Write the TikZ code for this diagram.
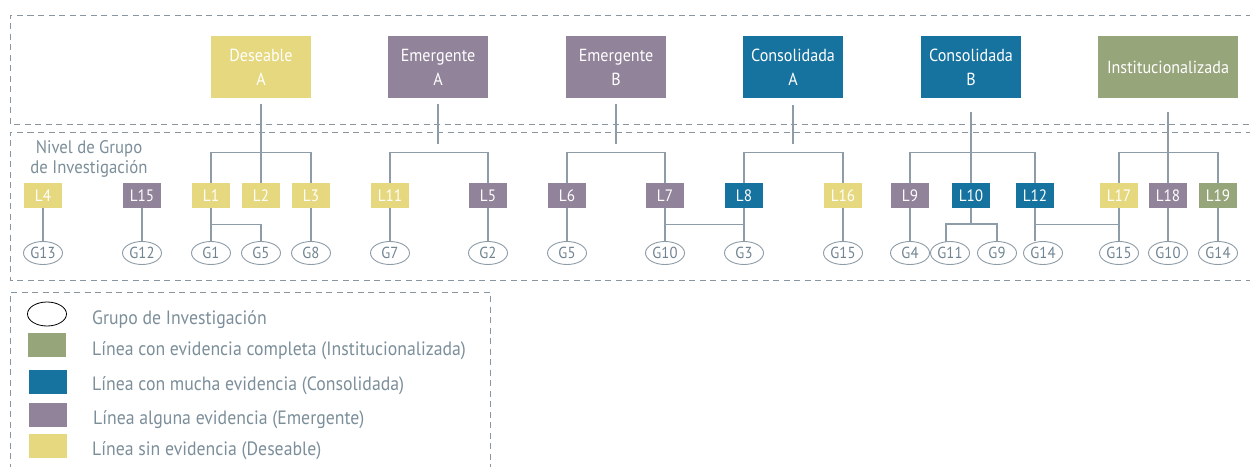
\documentclass[tikz,border=0pt]{standalone}
\usepackage{fontspec}
\setmainfont{PT Sans}[FakeStretch=0.92]
\usetikzlibrary{shapes.geometric}
\definecolor{cyel}{HTML}{E6D87E}
\definecolor{cpur}{HTML}{918399}
\definecolor{cblu}{HTML}{16729E}
\definecolor{cgrn}{HTML}{97A57B}
\definecolor{linec}{HTML}{8D9CA6}
\definecolor{dashc}{HTML}{8896A1}
\definecolor{gtext}{HTML}{6F8391}
\definecolor{ltext}{HTML}{7B8E99}
\tikzset{
  frame/.style={draw=dashc, line width=0.9pt, dash pattern=on 6pt off 4.5pt},
  level/.style={minimum width=100pt, minimum height=62pt, text=white, align=center,
    font=\fontsize{17.5}{24}\selectfont, inner sep=0pt},
  lbox/.style={minimum width=38pt, minimum height=25pt, text=white,
    font=\fontsize{16.5}{16.5}\selectfont, inner sep=0pt},
  grp/.style={ellipse, draw=linec, line width=0.9pt, minimum width=39pt, minimum height=23pt,
    inner sep=0pt, text=gtext, font=\fontsize{16}{16}\selectfont},
  conn/.style={draw=linec, line width=1.3pt},
  legsq/.style={minimum width=38pt, minimum height=24pt, inner sep=0pt},
  legtxt/.style={anchor=west, text=ltext, inner sep=0pt, font=\fontsize{19.3}{19.3}\selectfont}
}
\begin{document}
\begin{tikzpicture}[x=1pt,y=-1pt]
\useasboundingbox (0,0) rectangle (1250,466);
% frames
\draw[frame] (1262,15) -- (10,15) -- (10,124) -- (1262,124);
\draw[frame] (1262,132) -- (10,132) -- (10,280) -- (1262,280);
\draw[frame] (10,480) -- (10,292) -- (490,292) -- (490,480);
% top level boxes
\node[level, fill=cyel] (desA) at (261,67) {Deseable\\A};
\node[level, fill=cpur] (emA) at (438,67) {Emergente\\A};
\node[level, fill=cpur] (emB) at (616,67) {Emergente\\B};
\node[level, fill=cblu] (coA) at (793,67) {Consolidada\\A};
\node[level, fill=cblu] (coB) at (971,67) {Consolidada\\B};
\node[level, fill=cgrn, minimum width=140pt] (ins) at (1168,67) {Institucionalizada};
% group level label
\node[text=ltext, align=center, font=\fontsize{18.2}{19.5}\selectfont, inner sep=0pt] (nivel) at (89,159) {Nivel de Grupo\\de Investigación};
% line boxes
\node[lbox, fill=cyel] (L4) at (43,195.5) {L4};
\node[lbox, fill=cpur] (L15) at (142,195.5) {L15};
\node[lbox, fill=cyel] (L1) at (211,195.5) {L1};
\node[lbox, fill=cyel] (L2) at (261,195.5) {L2};
\node[lbox, fill=cyel] (L3) at (311,195.5) {L3};
\node[lbox, fill=cyel] (L11) at (390,195.5) {L11};
\node[lbox, fill=cpur] (L5) at (488,195.5) {L5};
\node[lbox, fill=cpur] (L6) at (567,195.5) {L6};
\node[lbox, fill=cpur] (L7) at (665,195.5) {L7};
\node[lbox, fill=cblu] (L8) at (744,195.5) {L8};
\node[lbox, fill=cyel] (L16) at (843,195.5) {L16};
\node[lbox, fill=cpur] (L9) at (910,195.5) {L9};
\node[lbox, fill=cblu] (L10) at (971,195.5) {L10};
\node[lbox, fill=cblu] (L12) at (1035,195.5) {L12};
\node[lbox, fill=cyel] (L17) at (1119,195.5) {L17};
\node[lbox, fill=cpur] (L18) at (1168,195.5) {L18};
\node[lbox, fill=cgrn] (L19) at (1218,195.5) {L19};
% groups
\node[grp] (G13) at (43,253) {G13};
\node[grp] (G12) at (142,253) {G12};
\node[grp] (G1) at (211,253) {G1};
\node[grp] (G5a) at (261,253) {G5};
\node[grp] (G8) at (311,253) {G8};
\node[grp] (G7) at (390,253) {G7};
\node[grp] (G2) at (488,253) {G2};
\node[grp] (G5b) at (567,253) {G5};
\node[grp] (G10a) at (665,253) {G10};
\node[grp] (G3) at (744,253) {G3};
\node[grp] (G15a) at (843,253) {G15};
\node[grp] (G4) at (910,253) {G4};
\node[grp] (G11) at (950,253) {G11};
\node[grp] (G9) at (997,253) {G9};
\node[grp] (G14a) at (1043,253) {G14};
\node[grp] (G15b) at (1119,253) {G15};
\node[grp] (G10b) at (1168,253) {G10};
\node[grp] (G14b) at (1218,253) {G14};
% stems from level boxes
\draw[conn] ([yshift=-6pt]desA.south) -- (L2.north);
\draw[conn] ([yshift=-6pt]emA.south) -- ++(0,40);
\draw[conn] ([yshift=-6pt]emB.south) -- ++(0,40);
\draw[conn] ([yshift=-7pt]coA.south) -- ++(0,39);
\draw[conn] ([yshift=-14pt]coB.south) -- (L10.north);
\draw[conn] ([yshift=-14pt]ins.south) -- (L18.north);
% bars
\draw[conn] (L1.north) -- ++(0,-30) -| (L3.north);
\draw[conn] (L11.north) -- ++(0,-30) -| (L5.north);
\draw[conn] (L6.north) -- ++(0,-30) -| (L7.north);
\draw[conn] (L8.north) -- ++(0,-30) -| (L16.north);
\draw[conn] (L9.north) -- ++(0,-30) -| (L12.north);
\draw[conn] (L17.north) -- ++(0,-30) -| (L19.north);
% line to group
\draw[conn] (L4) -- (G13);
\draw[conn] (L15) -- (G12);
\draw[conn] (L1) -- (G1);
\draw[conn] (L1.south) ++(0,16) -| (G5a.north);
\draw[conn] (L3) -- (G8);
\draw[conn] (L11) -- (G7);
\draw[conn] (L5) -- (G2);
\draw[conn] (L6) -- (G5b);
\draw[conn] (L7) -- (G10a);
\draw[conn] (L7.south) ++(0,16) -| (L8.south);
\draw[conn] (L8) -- (G3);
\draw[conn] (L16) -- (G15a);
\draw[conn] (L9) -- (G4);
\draw[conn] (L10.south) -- ++(0,16);
\draw[conn] ([xshift=-4pt]G11.north) ++(0,1) -- ++(0,-18) -| (G9.north);
\draw[conn] (L12.south) -- (L12.south |- G14a.north);
\draw[conn] (L12.south) ++(0,16) -| (L17.south);
\draw[conn] (L17) -- (G15b);
\draw[conn] (L18) -- (G10b);
\draw[conn] (L19) -- (G14b);
% legend
\node[ellipse, draw=black, line width=0.8pt, minimum width=39pt, minimum height=24pt, inner sep=0pt] (kG) at (47,314) {};
\node[legsq, fill=cgrn] (kI) at (47,345) {};
\node[legsq, fill=cblu] (kC) at (48,382) {};
\node[legsq, fill=cpur] (kE) at (48,415) {};
\node[legsq, fill=cyel] (kD) at (48,446) {};
\node[legtxt] (tG) at (92,320) {Grupo de Investigación};
\node[legtxt] (tI) at (92,351) {Línea con evidencia completa (Institucionalizada)};
\node[legtxt] (tC) at (92,386) {Línea con mucha evidencia (Consolidada)};
\node[legtxt] (tE) at (93,420) {Línea alguna evidencia (Emergente)};
\node[legtxt] (tD) at (92,451) {Línea sin evidencia (Deseable)};
\end{tikzpicture}
\end{document}
